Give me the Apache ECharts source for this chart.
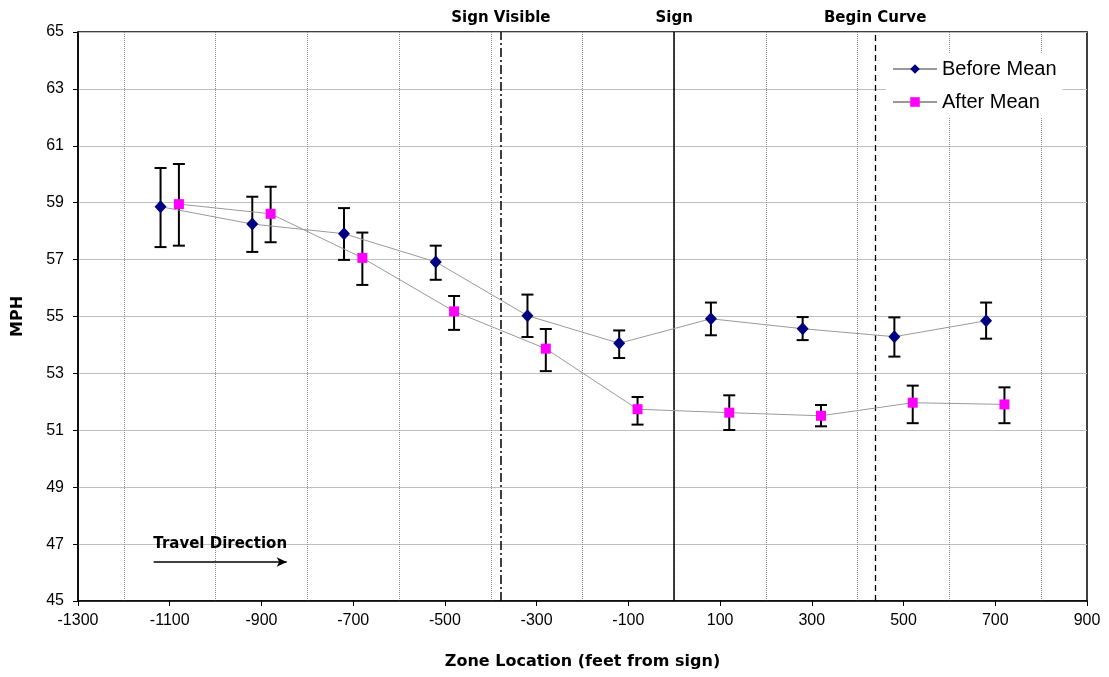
<!DOCTYPE html>
<html><head><meta charset="utf-8">
<script src="https://cdn.jsdelivr.net/npm/echarts@6/dist/echarts.min.js"></script>
<style>html,body{margin:0;padding:0;background:#fff}#c{width:1109px;height:677px}</style>
</head><body><div id="c"></div>
<script>
const xTicks = [-1300,-1100,-900,-700,-500,-300,-100,100,300,500,700,900];
const yTicks = [45,47,49,51,53,55,57,59,61,63,65];
const beforeX = [-1120,-920,-720,-520,-320,-120,80,280,480,680];
const beforeMean = [58.86,58.25,57.91,56.92,55.03,54.06,54.92,54.57,54.29,54.85];
const beforeLow = [57.44,57.27,56.99,56.29,54.28,53.54,54.34,54.17,53.59,54.22];
const beforeHigh = [60.22,59.21,58.81,57.49,55.77,54.51,55.49,54.98,54.97,55.49];
const afterX = [-1080,-880,-680,-480,-280,-80,120,320,520,720];
const afterMean = [58.95,58.61,57.06,55.18,53.87,51.74,51.62,51.51,51.97,51.91];
const afterLow = [57.49,57.61,56.11,54.53,53.08,51.20,51.01,51.14,51.25,51.25];
const afterHigh = [60.36,59.56,57.95,55.72,54.56,52.17,52.23,51.89,52.57,52.51];
const refLines = [
  {x: -378, name: 'Sign Visible', type: [9,3,2,3], width: 1.5},
  {x: 0, name: 'Sign', type: 'solid', width: 1.5},
  {x: 438, name: 'Begin Curve', type: [6,4], width: 1.3}
];
const travel = {from: -1135, to: -845, y: 46.37, text: 'Travel Direction'};

const FONT = '"Liberation Sans", Arial, sans-serif';
const BFONT = '"DejaVu Sans", "Liberation Sans", Arial, sans-serif';
const chart = echarts.init(document.getElementById('c'), null, {renderer: 'canvas'});

function errRender(params, api) {
  const x = api.value(0), lo = api.value(1), hi = api.value(2);
  const pLo = api.coord([x, lo]), pHi = api.coord([x, hi]);
  const w = 6;
  const st = {stroke: '#000', lineWidth: 2};
  return {type: 'group', children: [
    {type: 'line', shape: {x1: pLo[0], y1: pLo[1], x2: pHi[0], y2: pHi[1]}, style: st},
    {type: 'line', shape: {x1: pLo[0]-w, y1: pLo[1], x2: pLo[0]+w, y2: pLo[1]}, style: st},
    {type: 'line', shape: {x1: pHi[0]-w, y1: pHi[1], x2: pHi[0]+w, y2: pHi[1]}, style: st}
  ]};
}

const option = {
  animation: false,
  textStyle: {fontFamily: FONT},
  grid: {left: 78, right: 22, top: 32, bottom: 76, show: true, borderColor: '#000', borderWidth: 1.5, backgroundColor: 'transparent'},
  legend: {
    orient: 'vertical', left: 886, top: 54, itemGap: 13, itemWidth: 44, itemHeight: 12,
    backgroundColor: '#fff', padding: [5, 6, 5, 6],
    textStyle: {fontFamily: FONT, fontSize: 20, color: '#000'},
    data: ['Before Mean', 'After Mean']
  },
  xAxis: {
    type: 'value', min: xTicks[0], max: xTicks[xTicks.length-1], interval: 200,
    name: 'Zone Location (feet from sign)', nameLocation: 'middle', nameGap: 53,
    nameTextStyle: {fontFamily: BFONT, fontSize: 16, fontWeight: 'bold', color: '#000'},
    axisLine: {show: true, onZero: false, lineStyle: {color: '#000', width: 1.5}},
    axisTick: {show: true, length: 5, lineStyle: {color: '#000'}},
    axisLabel: {fontFamily: FONT, fontSize: 16, color: '#000', margin: 12, formatter: v => String(v)},
    splitLine: {show: false},
    minorTick: {show: false, splitNumber: 2},
    minorSplitLine: {show: true, lineStyle: {color: '#888', type: 'dotted', width: 1}}
  },
  yAxis: {
    type: 'value', min: yTicks[0], max: yTicks[yTicks.length-1], interval: 2,
    name: 'MPH', nameLocation: 'middle', nameGap: 52,
    nameTextStyle: {fontFamily: BFONT, fontSize: 16, fontWeight: 'bold', color: '#000'},
    axisLine: {show: true, onZero: false, lineStyle: {color: '#000', width: 1.5}},
    axisTick: {show: true, length: 5, lineStyle: {color: '#000'}},
    axisLabel: {fontFamily: FONT, fontSize: 16, color: '#000', margin: 14, formatter: v => String(v)},
    splitLine: {show: true, lineStyle: {color: '#c0c0c0', width: 1}}
  },
  series: [
    {
      type: 'custom', name: 'beforeErr', z: 3, renderItem: errRender,
      data: beforeX.map((x, i) => [x, beforeLow[i], beforeHigh[i]]),
      encode: {x: 0, y: [1, 2]}, silent: true
    },
    {
      type: 'custom', name: 'afterErr', z: 3, renderItem: errRender,
      data: afterX.map((x, i) => [x, afterLow[i], afterHigh[i]]),
      encode: {x: 0, y: [1, 2]}, silent: true
    },
    {
      type: 'line', name: 'Before Mean', z: 5,
      data: beforeX.map((x, i) => [x, beforeMean[i]]),
      symbol: 'diamond', symbolSize: [12, 13],
      itemStyle: {color: '#000080'},
      lineStyle: {color: '#999999', width: 1},
      markLine: {
        silent: true, symbol: ['none', 'none'], animation: false,
        data: refLines.map(r => ({
          xAxis: r.x,
          lineStyle: {color: '#000', type: r.type, width: r.width},
          label: {show: true, position: 'end', formatter: r.name, distance: 6,
            fontFamily: BFONT, fontSize: 15, fontWeight: 'bold', color: '#000'}
        }))
      }
    },
    {
      type: 'line', name: 'After Mean', z: 5,
      data: afterX.map((x, i) => [x, afterMean[i]]),
      symbol: 'rect', symbolSize: 10,
      itemStyle: {color: '#ff00ff'},
      lineStyle: {color: '#999999', width: 1},
      markLine: {
        silent: true, animation: false,
        data: [[
          {coord: [travel.from, travel.y], symbol: 'none'},
          {coord: [travel.to, travel.y], symbol: 'arrow', symbolSize: [7, 10]}
        ]],
        lineStyle: {color: '#000', type: 'solid', width: 1.5},
        label: {show: true, position: 'middle', formatter: travel.text, distance: 10,
          fontFamily: BFONT, fontSize: 15, fontWeight: 'bold', color: '#000'}
      }
    }
  ]
};
chart.setOption(option);
</script></body></html>
